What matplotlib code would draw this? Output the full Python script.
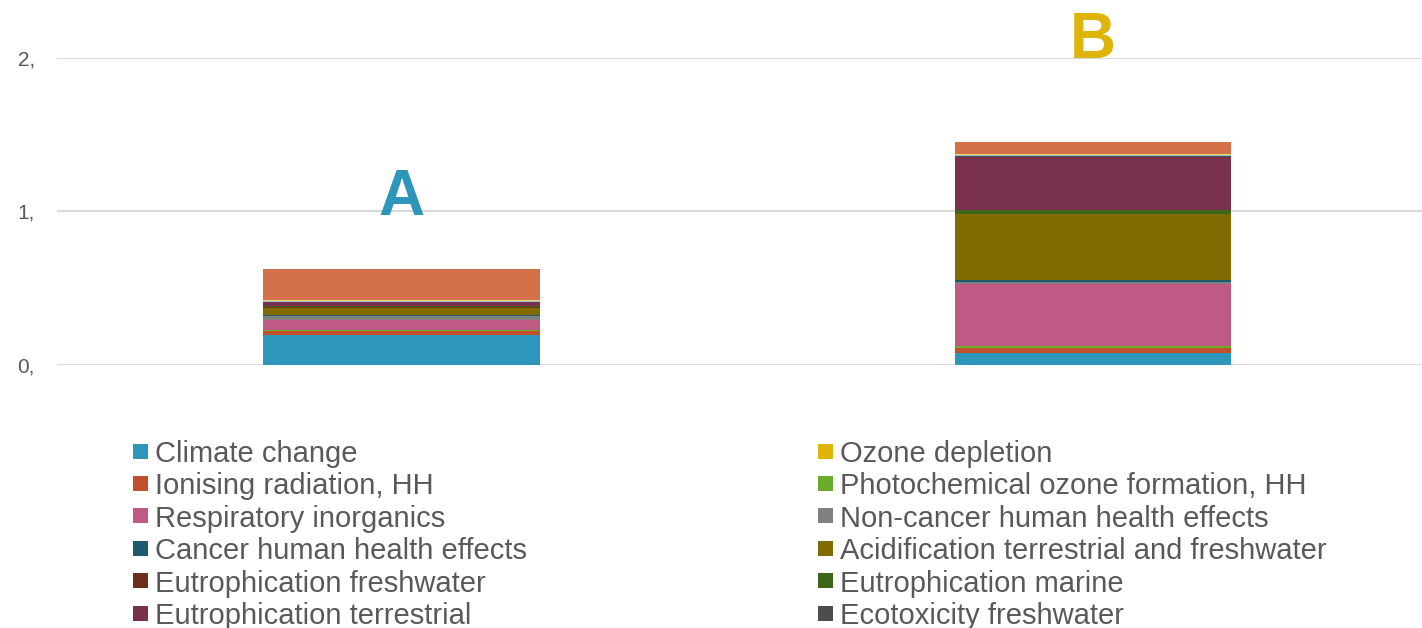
import matplotlib.pyplot as plt
from matplotlib.patches import Rectangle

plt.rcParams["font.family"] = ["Liberation Sans", "DejaVu Sans"]

# Impact categories, bottom to top of each stack
categories = [
    "Climate change",
    "Ozone depletion",
    "Ionising radiation, HH",
    "Photochemical ozone formation, HH",
    "Respiratory inorganics",
    "Non-cancer human health effects",
    "Cancer human health effects",
    "Acidification terrestrial and freshwater",
    "Eutrophication freshwater",
    "Eutrophication marine",
    "Eutrophication terrestrial",
    "Ecotoxicity freshwater",
    "Land use",
    "Water scarcity",
    "Resource use, fossils",
]
colors = [
    "#2E96BA", "#DEB408", "#C0502C", "#6AAB2A", "#BE5A84", "#808080",
    "#1E5A6E", "#806A02", "#6E2E1A", "#3D6618", "#78304D", "#4D4D4D",
    "#8CC3DA", "#F0D36A", "#D4704A",
]

scenarios = ["A", "B"]
values_a = [0.193, 0.003, 0.028, 0.007, 0.065, 0.020, 0.010, 0.048,
            0.004, 0.005, 0.024, 0.006, 0.005, 0.005, 0.200]
values_b = [0.076, 0.002, 0.030, 0.013, 0.403, 0.018, 0.008, 0.433,
            0.002, 0.022, 0.349, 0.006, 0.004, 0.005, 0.078]
label_colors = ["#2E96BA", "#DEB408"]
label_y = [0.976, 2.0]

fig = plt.figure(figsize=(14.22, 6.28), dpi=100)
ax = fig.add_axes([57 / 1422, (628 - 365) / 628, 1 - 57 / 1422, (365 - 57.7) / 628])

x = list(range(len(scenarios)))
bottoms = [0.0, 0.0]
for name, col, va, vb in zip(categories, colors, values_a, values_b):
    vals = [va, vb]
    ax.bar(x, vals, width=0.4, bottom=bottoms, color=col, edgecolor="none", zorder=3)
    bottoms = [b + v for b, v in zip(bottoms, vals)]

for xi, lab, c, yv in zip(x, scenarios, label_colors, label_y):
    ax.text(xi, yv, lab, color=c, fontsize=46, fontweight="bold",
            ha="center", va="baseline", clip_on=False, zorder=4)

ax.set_xlim(-0.498, 1.476)
ax.set_ylim(0, 2.0)
ax.set_yticks([0, 1, 2])
ax.set_yticklabels(["0,", "1,", "2,"])
ax.set_xticks([])
ax.tick_params(axis="y", length=0, labelsize=15, labelcolor="#595959", pad=16)
ax.grid(axis="y", color="#D9D9D9", linewidth=1.5, zorder=0)
for s in ax.spines.values():
    s.set_visible(False)

# Two-column legend below the plot, rows run past the bottom edge
col_x = [133, 818]
row_y0, row_dy = 451, 32.4
for i, (name, col) in enumerate(zip(categories, colors)):
    cx = col_x[i % 2]
    cy = row_y0 + (i // 2) * row_dy
    fig.patches.append(Rectangle((cx / 1422, (628 - cy - 7.5) / 628), 15 / 1422, 15 / 628,
                                 transform=fig.transFigure, facecolor=col, edgecolor="none"))
    fig.text((cx + 22) / 1422, (628 - cy) / 628, name, fontsize=21,
             color="#595959", va="center_baseline", ha="left")

fig.savefig("out.png", dpi=100)
